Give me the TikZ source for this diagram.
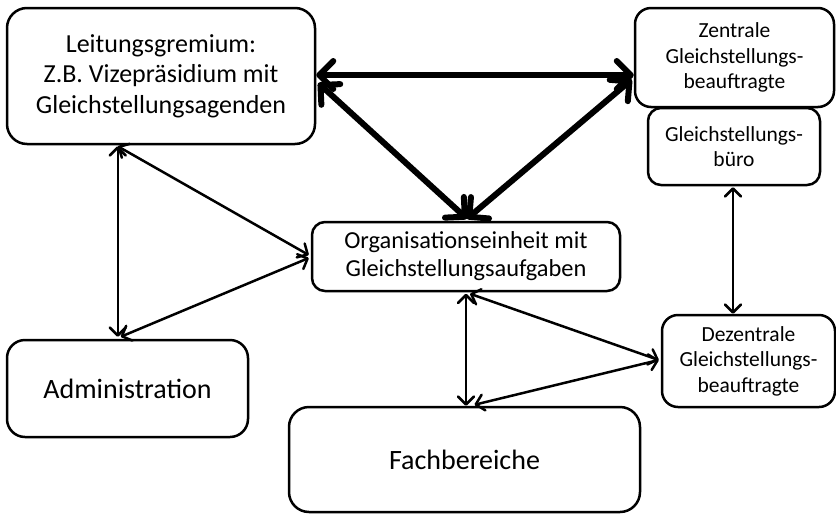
\documentclass[tikz,border=0pt]{standalone}
\usepackage{fontspec}
\setmainfont{Carlito}
\usetikzlibrary{arrows.meta,calc}
\begin{document}
\begin{tikzpicture}[x=1pt,y=-1pt,
  box/.style={draw, line width=2.5pt, rounded corners=16pt, inner sep=0pt, align=center, text=black},
  leittext/.style={font={\fontsize{26}{30.5}\selectfont}},
  bigtext/.style={font={\fontsize{24.4}{28}\selectfont}},
  smalltext/.style={font={\fontsize{21.5}{25.5}\selectfont}},
  hugetext/.style={font={\fontsize{28}{32}\selectfont}},
  thinarrow/.style={line width=2.5pt, line cap=round,
    {Straight Barb[length=8pt,width=16pt,round]}-{Straight Barb[length=8pt,width=16pt,round]}},
  thickarrow/.style={line width=6pt, line cap=round,
    {Straight Barb[length=14pt,width=28pt,round]}-{Straight Barb[length=14pt,width=28pt,round]}}]
\useasboundingbox (0,0) rectangle (836,515);

\node[box, leittext, minimum width=308pt, minimum height=136pt, rounded corners=20pt] (L) at (161,76)
  {Leitungsgremium:\\Z.B. Vizepräsidium mit\\Gleichstellungsagenden};
\node[box, smalltext, minimum width=199pt, minimum height=99pt] (Z) at (734.5,57.5)
  {Zentrale\\Gleichstellungs-\\beauftragte};
\node[box, smalltext, minimum width=172pt, minimum height=77pt, rounded corners=13pt] (B) at (734,146.5)
  {Gleichstellungs-\\büro};
\node[box, bigtext, minimum width=308pt, minimum height=69pt, rounded corners=13pt] (O) at (466,256.5)
  {Organisationseinheit mit\\Gleichstellungsaufgaben};
\node[box, hugetext, minimum width=241pt, minimum height=97pt, rounded corners=18pt] (A) at (127.5,388.5)
  {Administration};
\node[box, hugetext, minimum width=351pt, minimum height=105pt, rounded corners=20pt] (F) at (464.5,459.5)
  {Fachbereiche};
\node[box, smalltext, minimum width=173pt, minimum height=92pt] (D) at (748.5,361)
  {Dezentrale\\Gleichstellungs-\\beauftragte};

% thick arrows
\coordinate (le) at ($(L.east)+(0,-1)$);
\coordinate (ze) at (Z.west |- le);
\draw[thickarrow] (le) -- (ze);
\coordinate (ld) at ($(L.east)+(2,7)$);
\coordinate (zd) at ($(Z.west)+(-2,22)$);
\coordinate (on) at ($(O.north)+(1,-2)$);
\draw[thickarrow] (ld) -- (on);
\draw[thickarrow] (zd) -- (on);

% thin arrows
\coordinate (ls) at ($(L.south west)+(112,1)$);
\coordinate (an) at ($(A.north west)+(112,-2)$);
\draw[thinarrow] (ls) -- (an);
\coordinate (ow1) at ($(O.west)+(-2,-1.5)$);
\coordinate (ow2) at ($(O.west)+(-2,1.5)$);
\draw[thinarrow] (ls) -- (ow1);
\draw[thinarrow] ($(an)+(3,0)$) -- (ow2);

\coordinate (bs) at ($(B.south)+(-1,1)$);
\draw[thinarrow] (bs) -- (bs |- D.north);

\coordinate (os) at ($(O.south)+(0,1.5)$);
\draw[thinarrow] (os) -- (os |- F.north);
\coordinate (os2) at ($(O.south)+(4,1.5)$);
\coordinate (dw) at ($(D.west)+(-2,-1)$);
\draw[thinarrow] (os2) -- (dw);
\coordinate (fn) at ($(F.north)+(10,-1)$);
\draw[thinarrow] (dw) -- (fn);
\end{tikzpicture}
\end{document}
